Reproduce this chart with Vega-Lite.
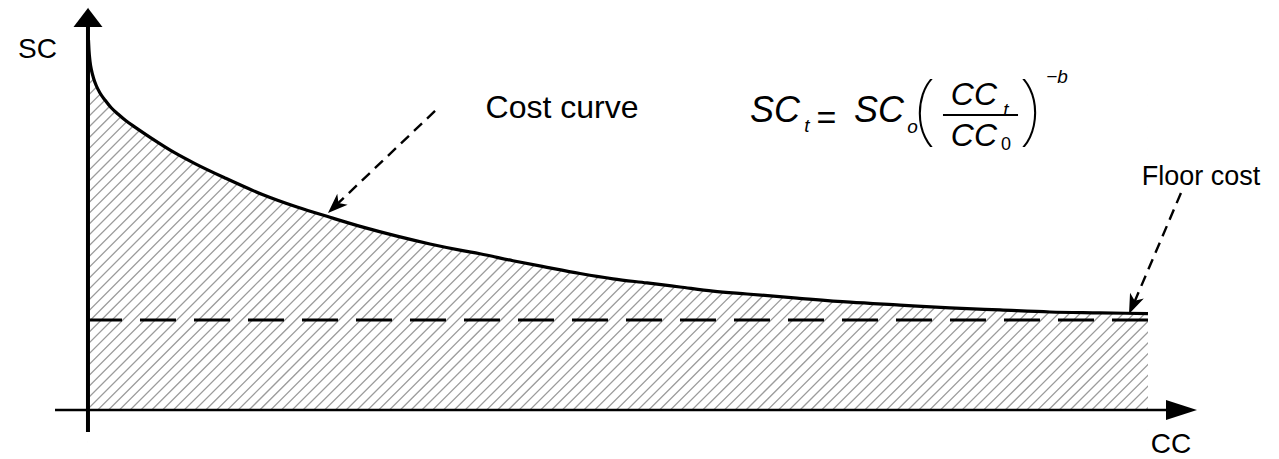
{
  "$schema": "https://vega.github.io/schema/vega-lite/v6.json",
  "width": 1279,
  "height": 459,
  "padding": 0,
  "autosize": {"type": "none"},
  "background": "#ffffff",
  "config": {"view": {"stroke": null}, "text": {"font": "Liberation Sans", "color": "#000000"}},
  "datasets": {
    "curve": [
      {"cc": 0.047, "sc": 90.2}, {"cc": 0.094, "sc": 87.8}, {"cc": 0.189, "sc": 85.1}, {"cc": 0.33, "sc": 82.9},
      {"cc": 0.519, "sc": 80.98}, {"cc": 0.755, "sc": 79.27}, {"cc": 1.132, "sc": 77.32}, {"cc": 1.604, "sc": 75.61},
      {"cc": 2.17, "sc": 73.78}, {"cc": 2.83, "sc": 72.2}, {"cc": 3.585, "sc": 70.54},
      {"cc": 4.43, "sc": 69.0}, {"cc": 6.04, "sc": 66.2}, {"cc": 8.21, "sc": 62.7}, {"cc": 10.09, "sc": 60.1},
      {"cc": 12.92, "sc": 56.6}, {"cc": 16.51, "sc": 52.5}, {"cc": 19.72, "sc": 49.5}, {"cc": 22.83, "sc": 47.0},
      {"cc": 25.94, "sc": 44.6}, {"cc": 29.15, "sc": 42.4}, {"cc": 32.26, "sc": 40.5}, {"cc": 35.09, "sc": 39.0},
      {"cc": 36.98, "sc": 38.1}, {"cc": 40.09, "sc": 36.4}, {"cc": 43.3, "sc": 34.8}, {"cc": 46.42, "sc": 33.3},
      {"cc": 49.53, "sc": 32.0}, {"cc": 52.74, "sc": 31.0}, {"cc": 55.85, "sc": 30.0}, {"cc": 58.96, "sc": 29.0},
      {"cc": 62.17, "sc": 28.3}, {"cc": 66.89, "sc": 27.3}, {"cc": 71.89, "sc": 26.3}, {"cc": 76.6, "sc": 25.6},
      {"cc": 81.32, "sc": 24.9}, {"cc": 86.04, "sc": 24.4}, {"cc": 90.75, "sc": 23.9}, {"cc": 95.47, "sc": 23.7},
      {"cc": 100, "sc": 23.5}
    ],
    "hatch": [{"cc": 10.09, "sc": 147.8}, {"cc": 90.09, "sc": -59.02}],
    "masks": [
      {"cc": -8.3, "cc2": 0, "sc": -11.95, "sc2": 100},
      {"cc": 100, "cc2": 112.36, "sc": -11.95, "sc2": 100},
      {"cc": 0, "cc2": 100, "sc": -11.95, "sc2": 0}
    ],
    "labels": [
      {"t": "SC", "cc": -4.76, "sc": 85.85, "role": "axis"},
      {"t": "CC", "cc": 102.17, "sc": -10.5, "role": "axis"},
      {"t": "Cost curve", "cc": 44.72, "sc": 71.22, "role": "curve"},
      {"t": "Floor cost", "cc": 105.0, "sc": 54.88, "role": "floor"}
    ],
    "formula": [
      {"t": "SC", "cc": 64.81, "sc": 70.24, "role": "big"},
      {"t": "SC", "cc": 74.62, "sc": 70.24, "role": "big"},
      {"t": "CC", "cc": 83.58, "sc": 74.39, "role": "frac"},
      {"t": "CC", "cc": 83.58, "sc": 64.39, "role": "frac"},
      {"t": "t", "cc": 67.83, "sc": 67.8, "role": "sub"},
      {"t": "o", "cc": 77.78, "sc": 67.56, "role": "sub"},
      {"t": "t", "cc": 86.6, "sc": 71.71, "role": "sub"},
      {"t": "−b", "cc": 91.42, "sc": 79.76, "role": "sub"},
      {"t": "0", "cc": 86.6, "sc": 63.41, "role": "digit"},
      {"t": "=", "cc": 69.67, "sc": 68.54, "role": "op"},
      {"t": "(", "cc": 79.01, "sc": 67.07, "role": "paren"},
      {"t": ")", "cc": 88.82, "sc": 67.07, "role": "paren"}
    ]
  },
  "encoding": {
    "x": {"field": "cc", "type": "quantitative", "scale": {"domain": [-8.3, 112.36], "nice": false, "zero": false}, "axis": null},
    "y": {"field": "sc", "type": "quantitative", "scale": {"domain": [-11.95, 100], "nice": false, "zero": false}, "axis": null}
  },
  "layer": [
    {
      "data": {"name": "hatch"},
      "mark": {"type": "line", "stroke": "#9c9c9c", "strokeWidth": 1200, "strokeDash": [1.3, 6.34], "strokeCap": "butt"},
      "encoding": {}
    },
    {
      "data": {"name": "curve"},
      "mark": {"type": "area", "fill": "#ffffff", "interpolate": "monotone"},
      "encoding": {"y2": {"datum": 100}}
    },
    {
      "data": {"name": "masks"},
      "mark": {"type": "rect", "fill": "#ffffff"},
      "encoding": {"x2": {"field": "cc2"}, "y2": {"field": "sc2"}}
    },
    {
      "data": {"values": [{"cc": 100, "sc": 21.95, "k": 0}, {"cc": 0, "sc": 21.95, "k": 1}]},
      "mark": {"type": "line", "stroke": "#000000", "strokeWidth": 2.8, "strokeDash": [36, 18]},
      "encoding": {"order": {"field": "k"}}
    },
    {
      "data": {"name": "curve"},
      "mark": {"type": "line", "stroke": "#000000", "strokeWidth": 3.2, "interpolate": "monotone"},
      "encoding": {}
    },
    {
      "data": {"values": [{"cc": 0, "sc": -5.37, "sc2": 93.41}]},
      "mark": {"type": "rule", "stroke": "#000000", "strokeWidth": 4},
      "encoding": {"y2": {"field": "sc2"}}
    },
    {
      "data": {"values": [{"cc": -3.11, "cc2": 101.89, "sc": 0}]},
      "mark": {"type": "rule", "stroke": "#000000", "strokeWidth": 2.5},
      "encoding": {"x2": {"field": "cc2"}}
    },
    {
      "data": {"values": [{"cc": 0, "sc": 95.73}]},
      "mark": {"type": "point", "shape": "M-1,0.655L0,-0.655L1,0.655Z", "size": 841, "filled": true, "color": "#000000", "opacity": 1, "strokeWidth": 0}
    },
    {
      "data": {"values": [{"cc": 103.16, "sc": 0}]},
      "mark": {"type": "point", "shape": "M-1,-0.645L1,0L-1,0.645Z", "size": 961, "filled": true, "color": "#000000", "opacity": 1, "strokeWidth": 0}
    },
    {
      "data": {"values": [{"cc": 32.74, "sc": 72.93, "k": 0}, {"cc": 23.3, "sc": 49.7, "k": 1}]},
      "mark": {"type": "line", "stroke": "#000000", "strokeWidth": 2.4, "strokeDash": [11, 7]},
      "encoding": {"order": {"field": "k"}}
    },
    {
      "data": {"values": [{"cc": 22.64, "sc": 48.05}]},
      "mark": {"type": "point", "shape": "M0,0L0.75,2L0,1.45L-0.75,2Z", "size": 400, "angle": 226.4, "filled": true, "color": "#000000", "opacity": 1, "strokeWidth": 0}
    },
    {
      "data": {"values": [{"cc": 103.11, "sc": 52.93, "k": 0}, {"cc": 98.65, "sc": 25.9, "k": 1}]},
      "mark": {"type": "line", "stroke": "#000000", "strokeWidth": 2.4, "strokeDash": [11, 7]},
      "encoding": {"order": {"field": "k"}}
    },
    {
      "data": {"values": [{"cc": 98.21, "sc": 23.41}]},
      "mark": {"type": "point", "shape": "M0,0L0.75,2L0,1.45L-0.75,2Z", "size": 400, "angle": 203.3, "filled": true, "color": "#000000", "opacity": 1, "strokeWidth": 0}
    },
    {
      "data": {"name": "labels"},
      "transform": [{"filter": "datum.role === 'axis'"}],
      "mark": {"type": "text", "fontSize": 28, "align": "center", "baseline": "alphabetic"},
      "encoding": {"text": {"field": "t"}}
    },
    {
      "data": {"name": "labels"},
      "transform": [{"filter": "datum.role === 'curve'"}],
      "mark": {"type": "text", "fontSize": 32, "align": "center", "baseline": "alphabetic"},
      "encoding": {"text": {"field": "t"}}
    },
    {
      "data": {"name": "labels"},
      "transform": [{"filter": "datum.role === 'floor'"}],
      "mark": {"type": "text", "fontSize": 27, "align": "center", "baseline": "alphabetic"},
      "encoding": {"text": {"field": "t"}}
    },
    {
      "data": {"name": "formula"},
      "transform": [{"filter": "datum.role === 'big'"}],
      "mark": {"type": "text", "fontSize": 36, "fontStyle": "italic", "align": "center", "baseline": "alphabetic"},
      "encoding": {"text": {"field": "t"}}
    },
    {
      "data": {"name": "formula"},
      "transform": [{"filter": "datum.role === 'frac'"}],
      "mark": {"type": "text", "fontSize": 32, "fontStyle": "italic", "align": "center", "baseline": "alphabetic"},
      "encoding": {"text": {"field": "t"}}
    },
    {
      "data": {"name": "formula"},
      "transform": [{"filter": "datum.role === 'sub'"}],
      "mark": {"type": "text", "fontSize": 19, "fontStyle": "italic", "align": "center", "baseline": "alphabetic"},
      "encoding": {"text": {"field": "t"}}
    },
    {
      "data": {"name": "formula"},
      "transform": [{"filter": "datum.role === 'digit'"}],
      "mark": {"type": "text", "fontSize": 18, "align": "center", "baseline": "alphabetic"},
      "encoding": {"text": {"field": "t"}}
    },
    {
      "data": {"name": "formula"},
      "transform": [{"filter": "datum.role === 'op'"}],
      "mark": {"type": "text", "fontSize": 34, "align": "center", "baseline": "alphabetic"},
      "encoding": {"text": {"field": "t"}}
    },
    {
      "data": {"name": "formula"},
      "transform": [{"filter": "datum.role === 'paren'"}],
      "mark": {"type": "text", "font": "Noto Sans", "fontWeight": 100, "fontSize": 78, "align": "center", "baseline": "alphabetic"},
      "encoding": {"text": {"field": "t"}}
    },
    {
      "data": {"values": [{"cc": 80.66, "cc2": 87.74, "sc": 71.95}]},
      "mark": {"type": "rule", "stroke": "#000000", "strokeWidth": 2},
      "encoding": {"x2": {"field": "cc2"}}
    }
  ]
}
